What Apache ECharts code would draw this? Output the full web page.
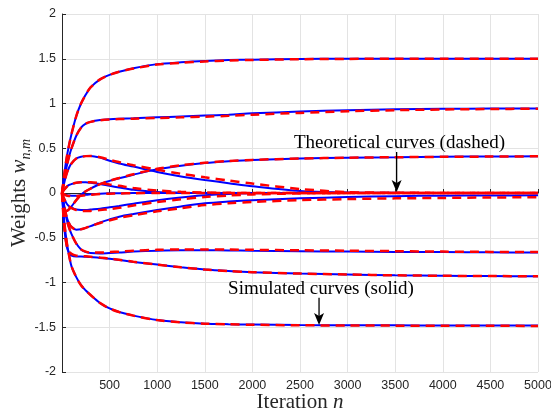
<!DOCTYPE html>
<html><head><meta charset="utf-8">
<script src="https://cdn.jsdelivr.net/npm/echarts@6/dist/echarts.min.js"></script>
<style>html,body{margin:0;padding:0;background:#fff}#c{width:551px;height:413px}</style>
</head><body><div id="c"></div>
<script>
// Iteration index n
const iterations = [0,25,50,75,100,150,200,250,300,400,500,600,750,1000,1250,1500,1750,2000,2500,3000,3500,4000,4500,5000];

// Simulated curves (solid, blue)
const sim1 = [0,0.22,0.40,0.54,0.66,0.86,1.00,1.10,1.18,1.27,1.32,1.355,1.395,1.44,1.46,1.475,1.485,1.49,1.497,1.50,1.50,1.50,1.50,1.50];
const sim2 = [0,0.17,0.30,0.41,0.50,0.64,0.73,0.775,0.795,0.815,0.825,0.83,0.835,0.845,0.855,0.865,0.875,0.89,0.91,0.925,0.935,0.94,0.943,0.945];
const sim3 = [0,0.12,0.22,0.285,0.33,0.385,0.405,0.412,0.413,0.395,0.36,0.33,0.295,0.235,0.185,0.145,0.11,0.075,0.022,0.006,0.002,0,0,0];
const sim4 = [0,-0.18,-0.20,-0.18,-0.15,-0.08,-0.02,0.02,0.05,0.10,0.135,0.165,0.205,0.265,0.305,0.335,0.355,0.37,0.385,0.395,0.40,0.405,0.408,0.41];
const sim5 = [0,0.04,0.07,0.09,0.10,0.115,0.12,0.12,0.115,0.10,0.08,0.062,0.035,0.012,0.004,0,0,0,0,0,0,0,0,0];
const sim6 = [0,-0.015,-0.025,-0.028,-0.03,-0.03,-0.025,-0.02,-0.015,-0.008,-0.004,-0.002,0,0,0,0,0,0,0,0,0,0,0,0];
const sim7 = [0,-0.07,-0.12,-0.15,-0.165,-0.185,-0.19,-0.19,-0.185,-0.175,-0.16,-0.145,-0.12,-0.08,-0.05,-0.025,-0.01,-0.004,0,0,0,0,0,0];
const sim8 = [0,-0.15,-0.27,-0.34,-0.38,-0.41,-0.405,-0.39,-0.37,-0.33,-0.295,-0.265,-0.235,-0.19,-0.15,-0.115,-0.095,-0.08,-0.06,-0.045,-0.035,-0.03,-0.028,-0.026];
const sim9 = [0,-0.17,-0.30,-0.39,-0.46,-0.565,-0.63,-0.66,-0.67,-0.675,-0.67,-0.665,-0.655,-0.645,-0.64,-0.64,-0.642,-0.645,-0.65,-0.655,-0.658,-0.66,-0.663,-0.665];
const sim10 = [0,-0.40,-0.60,-0.67,-0.70,-0.71,-0.71,-0.712,-0.715,-0.725,-0.735,-0.748,-0.77,-0.80,-0.83,-0.855,-0.872,-0.885,-0.90,-0.91,-0.92,-0.925,-0.928,-0.93];
const sim11 = [0,-0.33,-0.55,-0.70,-0.82,-0.94,-1.03,-1.09,-1.14,-1.23,-1.29,-1.33,-1.37,-1.42,-1.445,-1.46,-1.466,-1.47,-1.475,-1.478,-1.479,-1.48,-1.48,-1.48];

// Theoretical curves (dashed, red)
const theo1 = [0,0.22,0.40,0.54,0.66,0.86,1.00,1.10,1.18,1.27,1.32,1.355,1.39,1.435,1.455,1.47,1.48,1.487,1.495,1.498,1.50,1.50,1.50,1.50];
const theo2 = [0,0.17,0.30,0.41,0.50,0.64,0.73,0.775,0.795,0.813,0.822,0.826,0.83,0.838,0.845,0.853,0.862,0.875,0.895,0.913,0.925,0.933,0.938,0.942];
const theo3 = [0,0.12,0.22,0.285,0.33,0.385,0.405,0.412,0.413,0.40,0.37,0.345,0.31,0.26,0.215,0.175,0.14,0.105,0.045,0.01,0.003,0.001,0,0];
const theo4 = [0,-0.18,-0.20,-0.18,-0.15,-0.08,-0.02,0.02,0.05,0.10,0.137,0.167,0.21,0.27,0.31,0.338,0.357,0.37,0.385,0.394,0.40,0.404,0.407,0.41];
const theo5 = [0,0.04,0.07,0.09,0.10,0.115,0.12,0.121,0.12,0.11,0.095,0.08,0.055,0.028,0.013,0.006,0.002,0,0,0,0,0,0,0];
const theo6 = [0,-0.015,-0.03,-0.033,-0.035,-0.035,-0.03,-0.025,-0.02,-0.012,-0.008,-0.005,-0.003,0,0,0,0,0,0,0,0,0,0,0];
const theo7 = [0,-0.07,-0.12,-0.15,-0.17,-0.19,-0.20,-0.20,-0.20,-0.19,-0.18,-0.165,-0.14,-0.10,-0.07,-0.045,-0.028,-0.016,-0.005,-0.001,0,0,0,0];
const theo8 = [0,-0.15,-0.27,-0.34,-0.38,-0.41,-0.405,-0.39,-0.37,-0.335,-0.305,-0.278,-0.25,-0.205,-0.17,-0.135,-0.115,-0.10,-0.08,-0.068,-0.06,-0.055,-0.05,-0.048];
const theo9 = [0,-0.17,-0.30,-0.39,-0.46,-0.565,-0.63,-0.655,-0.665,-0.665,-0.66,-0.655,-0.645,-0.635,-0.63,-0.63,-0.632,-0.635,-0.64,-0.645,-0.65,-0.655,-0.658,-0.66];
const theo10 = [0,-0.40,-0.59,-0.65,-0.68,-0.70,-0.705,-0.708,-0.712,-0.722,-0.733,-0.746,-0.768,-0.80,-0.83,-0.855,-0.872,-0.885,-0.90,-0.91,-0.92,-0.925,-0.928,-0.93];
const theo11 = [0,-0.33,-0.55,-0.70,-0.82,-0.94,-1.03,-1.09,-1.14,-1.23,-1.29,-1.33,-1.37,-1.42,-1.445,-1.46,-1.467,-1.472,-1.478,-1.48,-1.482,-1.483,-1.484,-1.485];

const simulated = [sim1,sim2,sim3,sim4,sim5,sim6,sim7,sim8,sim9,sim10,sim11];
const theoretical = [theo1,theo2,theo3,theo4,theo5,theo6,theo7,theo8,theo9,theo10,theo11];

// Axis ticks
const xTicks = [0,500,1000,1500,2000,2500,3000,3500,4000,4500,5000];
const yTicks = [-2,-1.5,-1,-0.5,0,0.5,1,1.5,2];

// Annotations (data coordinates)
const annoText = ['Theoretical curves (dashed)', 'Simulated curves (solid)'];
const annoTextX = [3545, 2720];
const annoTextY = [0.555, -1.077];
const arrowX = [3515, 2700];
const arrowFromY = [0.458, -1.169];
const arrowToY = [0.012, -1.476];

const chart = echarts.init(document.getElementById('c'), null, {renderer: 'canvas'});
const pair = ys => iterations.map((x, i) => [x, ys[i]]);
const series = [];
simulated.forEach(ys => series.push({
  type: 'line', data: pair(ys), showSymbol: false, smooth: 0.3,
  lineStyle: {color: '#0000ff', width: 2}, z: 2, silent: true, animation: false
}));
theoretical.forEach(ys => series.push({
  type: 'line', data: pair(ys), showSymbol: false, smooth: 0.3,
  lineStyle: {color: '#ff0000', width: 2.5, type: [9, 6]}, z: 3, silent: true, animation: false
}));

const serif = '"Liberation Serif", "DejaVu Serif", serif';
const sans = '"Liberation Sans", Arial, sans-serif';
chart.setOption({
  animation: false,
  backgroundColor: '#ffffff',
  grid: {left: 62, right: 13, top: 14, bottom: 41, containLabel: false, outerBoundsMode: 'none'},
  xAxis: {
    type: 'value', min: 0, max: 5000, interval: 500,
    name: '{a|Iteration }{n|n}', nameLocation: 'middle', nameGap: 20, nameMoveOverlap: false,
    nameTextStyle: {rich: {
      a: {fontFamily: serif, fontSize: 21, color: '#262626'},
      n: {fontFamily: serif, fontSize: 21, fontStyle: 'italic', color: '#262626'}
    }},
    axisLine: {show: true, lineStyle: {color: '#262626', width: 1}},
    axisTick: {show: true, inside: true, length: 4, lineStyle: {color: '#262626'}},
    axisLabel: {fontFamily: sans, fontSize: 12.5, color: '#262626', margin: 7,
      formatter: v => (v === 0 ? '' : String(v))},
    splitLine: {show: true, lineStyle: {color: '#e3e3e3', width: 1}}
  },
  yAxis: {
    type: 'value', min: -2, max: 2, interval: 0.5,
    name: '{a|Weights }{w|w}{s|n,m}', nameLocation: 'middle', nameGap: 29, nameRotate: 90, nameMoveOverlap: false,
    nameTextStyle: {rich: {
      a: {fontFamily: serif, fontSize: 21, color: '#262626', lineHeight: 28, verticalAlign: 'middle'},
      w: {fontFamily: serif, fontSize: 21, fontStyle: 'italic', color: '#262626', lineHeight: 28, verticalAlign: 'middle'},
      s: {fontFamily: serif, fontSize: 14, fontStyle: 'italic', color: '#262626', lineHeight: 28, verticalAlign: 'bottom'}
    }},
    axisLine: {show: true, lineStyle: {color: '#262626', width: 1}},
    axisTick: {show: true, inside: true, length: 4, lineStyle: {color: '#262626'}},
    axisLabel: {fontFamily: sans, fontSize: 12.5, color: '#262626', margin: 6,
      formatter: v => String(v)},
    splitLine: {show: true, lineStyle: {color: '#e3e3e3', width: 1}}
  },
  series: series
});

// annotations placed via the axes' own scales
const graphics = [];
annoText.forEach((t, i) => {
  const p = chart.convertToPixel({gridIndex: 0}, [annoTextX[i], annoTextY[i]]);
  graphics.push({type: 'text', x: p[0], y: p[1], z: 10,
    style: {text: t, font: '19px ' + serif, fill: '#000', align: 'center', verticalAlign: 'middle'}});
  const a = chart.convertToPixel({gridIndex: 0}, [arrowX[i], arrowFromY[i]]);
  const b = chart.convertToPixel({gridIndex: 0}, [arrowX[i], arrowToY[i]]);
  const hl = 12, hw = 5, notch = 3;
  graphics.push({type: 'line', z: 10, shape: {x1: a[0], y1: a[1], x2: b[0], y2: b[1] - hl + notch},
    style: {stroke: '#000', lineWidth: 1.3}});
  graphics.push({type: 'polygon', z: 10, shape: {points: [
    [b[0], b[1]], [b[0] - hw, b[1] - hl], [b[0], b[1] - hl + notch], [b[0] + hw, b[1] - hl]
  ]}, style: {fill: '#000'}});
});
chart.setOption({graphic: graphics});
</script>
</body></html>
